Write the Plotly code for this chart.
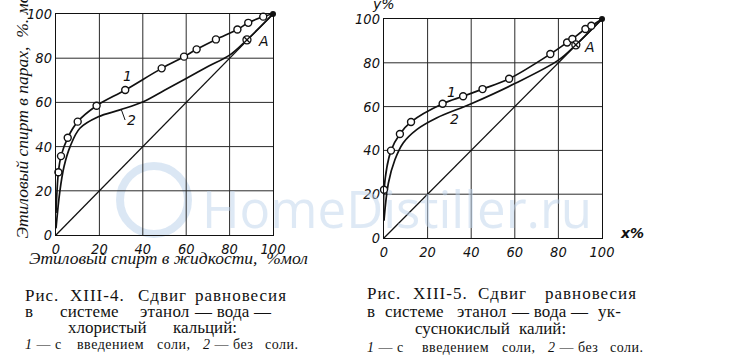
import plotly.graph_objects as go

# ---------------- data ----------------
# Left chart: ethanol - water - CaCl2
left_salt_x = [0, 1.1, 2.3, 5.4, 10, 18.7, 31.9, 48.7, 59, 64.8, 73.7, 83.6, 88.6, 95.5, 100]
left_salt_y = [10, 28.4, 35.7, 44, 51.3, 58.5, 65.6, 75.4, 80.7, 84, 88.5, 93, 96, 98.8, 100]
left_salt_marked = [False, True, True, True, True, True, True, True, True, True, True, True, True, True, False]
left_nosalt_x = [0, 1.8, 3.7, 6.5, 11, 19.5, 29.5, 40.2, 50, 60.2, 70, 80.2, 88, 100]
left_nosalt_y = [3, 20, 31, 40, 48.3, 53.5, 56.6, 60.3, 65.5, 70.9, 76.2, 81.5, 88.3, 100]
left_A = (88, 88.3)

# Right chart: ethanol - water - potassium acetate
right_salt_x = [0, 0, 3.2, 7.3, 12.4, 26.9, 36.3, 45.2, 57.4, 76.3, 84, 86.4, 92.4, 95.1, 100]
right_salt_y = [8, 22, 39.9, 47.5, 53, 61.3, 64.7, 68, 72.7, 84, 89.3, 90.9, 95.4, 96.9, 100]
right_salt_marked = [False, True, True, True, True, True, True, True, True, True, True, True, True, True, False]
right_nosalt_x = [0, 2, 5, 8.8, 15, 24.1, 40, 60, 80, 88, 100]
right_nosalt_y = [8, 25, 35.7, 43.4, 49.5, 54.8, 61.3, 70.5, 81.2, 88.2, 100]
right_A = (88, 88.2)

diag = [0, 100]
ticks = [0, 20, 40, 60, 80, 100]
tick_text = ["0", "20", "40", "60", "80", "100"]

W, H = 751, 364

def px_x(p):
    return p / W

def px_y(p):
    return 1 - p / H

fig = go.Figure()

INK = "#111111"
TICKFONT = dict(family="DejaVu Sans Condensed, DejaVu Sans", size=14.5, color=INK, style="italic")

def add_grid(xa, ya):
    inner = ticks[1:-1]
    gx, gy = [], []
    for t in inner:
        gx += [t, t, None]
        gy += [ticks[0], ticks[-1], None]
        gx += [ticks[0], ticks[-1], None]
        gy += [t, t, None]
    fig.add_trace(go.Scatter(x=gx, y=gy, mode="lines", line=dict(color="#2a2a2a", width=1),
                             xaxis=xa, yaxis=ya, showlegend=False, hoverinfo="skip"))

def add_panel(xa, ya, sx, sy, smark, nx, ny, A):
    add_grid(xa, ya)
    # diagonal
    fig.add_trace(go.Scatter(x=diag, y=diag, mode="lines", line=dict(color=INK, width=1.3),
                             xaxis=xa, yaxis=ya, showlegend=False, hoverinfo="skip"))
    # curve 2 (without salt)
    fig.add_trace(go.Scatter(x=nx, y=ny, mode="lines", line=dict(color=INK, width=1.7, shape="spline", smoothing=1.0),
                             xaxis=xa, yaxis=ya, showlegend=False, cliponaxis=False))
    # curve 1 (with salt)
    fig.add_trace(go.Scatter(x=sx, y=sy, mode="lines", line=dict(color=INK, width=1.7, shape="spline", smoothing=1.0),
                             xaxis=xa, yaxis=ya, showlegend=False, cliponaxis=False))
    mx = [v for v, m in zip(sx, smark) if m]
    my = [v for v, m in zip(sy, smark) if m]
    fig.add_trace(go.Scatter(x=mx, y=my, mode="markers",
                             marker=dict(symbol="circle", size=7, color="white", line=dict(color=INK, width=1.4)),
                             xaxis=xa, yaxis=ya, showlegend=False, cliponaxis=False))
    # end point
    fig.add_trace(go.Scatter(x=[100], y=[100], mode="markers",
                             marker=dict(symbol="circle", size=6, color=INK),
                             xaxis=xa, yaxis=ya, showlegend=False, cliponaxis=False))
    # point A
    fig.add_trace(go.Scatter(x=[A[0]], y=[A[1]], mode="markers",
                             marker=dict(symbol="circle-x", size=8, color="white", line=dict(color=INK, width=1.3)),
                             xaxis=xa, yaxis=ya, showlegend=False, cliponaxis=False))

add_panel("x", "y", left_salt_x, left_salt_y, left_salt_marked, left_nosalt_x, left_nosalt_y, left_A)
add_panel("x2", "y2", right_salt_x, right_salt_y, right_salt_marked, right_nosalt_x, right_nosalt_y, right_A)

axis_common = dict(range=[0, 100], tickvals=ticks, ticktext=tick_text, showgrid=False,
                   zeroline=False, showline=True, linecolor=INK, linewidth=1.3, mirror=True,
                   ticks="", tickfont=TICKFONT, fixedrange=True, automargin=False)

fig.update_layout(
    template="none",
    width=W, height=H,
    margin=dict(l=0, r=0, t=0, b=0, autoexpand=False),
    paper_bgcolor="white", plot_bgcolor="rgba(0,0,0,0)",
    xaxis=dict(domain=[px_x(56), px_x(273)], anchor="y", **axis_common),
    yaxis=dict(domain=[px_y(235), px_y(14)], anchor="x", **axis_common),
    xaxis2=dict(domain=[px_x(384), px_x(602)], anchor="y2", **axis_common),
    yaxis2=dict(domain=[px_y(238), px_y(19)], anchor="x2", **axis_common),
    showlegend=False,
)

# watermark (faint)
fig.add_shape(type="circle", xref="paper", yref="paper", layer="below",
              x0=px_x(120), x1=px_x(188), y0=px_y(234), y1=px_y(166),
              line=dict(color="rgba(190,212,235,0.55)", width=8))
fig.add_annotation(text="HomeDistiller.ru", xref="paper", yref="paper", x=px_x(397), y=px_y(208),
                   showarrow=False, font=dict(family="Open Sans, DejaVu Sans", size=51, color="rgba(190,212,235,0.5)"),
                   xanchor="center", yanchor="middle")

LABEL = dict(family="DejaVu Sans, Liberation Sans", size=14, color=INK, style="italic")

# curve labels left
fig.add_annotation(x=33, y=72, xref="x", yref="y", text="1", showarrow=False, font=LABEL)
fig.add_annotation(x=30, y=57, xref="x", yref="y", text="2", showarrow=True, arrowhead=0, arrowwidth=1,
                   arrowcolor=INK, ax=4, ay=11, font=LABEL, xanchor="left")
fig.add_annotation(x=92, y=88, xref="x", yref="y", text="A", showarrow=False, font=LABEL, xanchor="left")
# curve labels right
fig.add_annotation(x=31, y=66.5, xref="x2", yref="y2", text="1", showarrow=False, font=LABEL)
fig.add_annotation(x=32.5, y=54.5, xref="x2", yref="y2", text="2", showarrow=False, font=LABEL)
fig.add_annotation(x=91, y=87, xref="x2", yref="y2", text="A", showarrow=False, font=LABEL, xanchor="left")

TITLE = dict(family="Liberation Serif, DejaVu Serif", size=17.5, color=INK, style="italic")
# axis titles left
fig.add_annotation(text="Этиловый спирт в парах,  %. мол", xref="paper", yref="paper",
                   x=px_x(21), y=px_y(241), textangle=-90, showarrow=False, font=TITLE,
                   xanchor="center", yanchor="bottom")
fig.add_annotation(text="Этиловый спирт в жидкости,  %мол", xref="paper", yref="paper",
                   x=px_x(27), y=px_y(258), showarrow=False, font=TITLE,
                   xanchor="left", yanchor="middle")
# axis titles right
fig.add_annotation(text="y%", xref="paper", yref="paper", x=px_x(370), y=px_y(4), showarrow=False,
                   font=dict(family="DejaVu Sans", size=14, color=INK, style="italic"), xanchor="left", yanchor="middle")
fig.add_annotation(text="x%", xref="paper", yref="paper", x=px_x(618), y=px_y(233), showarrow=False,
                   font=dict(family="DejaVu Sans", size=14, color=INK, style="italic", weight="bold"),
                   xanchor="left", yanchor="middle")

# captions
CAP = dict(family="Liberation Serif, DejaVu Serif", size=17, color=INK)
CAP_S = dict(family="Liberation Serif, DejaVu Serif", size=14, color=INK)

def cap(text, x, y, font=CAP, spacing=1.0):
    fig.add_annotation(text='<span style="letter-spacing:%.1fpx">%s</span>' % (spacing, text),
                       xref="paper", yref="paper", x=px_x(x - 2), y=px_y(y),
                       showarrow=False, font=font, xanchor="left", yanchor="middle")

def cap_row(words, y, font=CAP, spacing=1.0):
    for text, x in words:
        cap(text, x, y, font=font, spacing=spacing)

# left caption
cap_row([("Рис.", 25), ("XIII-4.", 70), ("Сдвиг", 138), ("равновесия", 195)], 295, spacing=1.0)
cap_row([("в", 25), ("системе", 60), ("этанол", 140), ("— вода —", 194)], 311, spacing=0.2)
cap_row([("хлористый", 68), ("кальций:", 173)], 327, spacing=0.0)
cap_row([("<i>1</i> — с", 25), ("введением", 77), ("соли,", 157), ("<i>2</i> — без", 203), ("соли.", 265)], 344,
        CAP_S, spacing=0.5)

# right caption
cap_row([("Рис.", 367), ("XIII-5.", 413), ("Сдвиг", 478), ("равновесия", 545)], 293, spacing=1.0)
cap_row([("в", 367), ("системе", 385), ("этанол", 457), ("— вода —", 511), ("ук-", 598)], 311, spacing=0.2)
cap_row([("суснокислый", 415), ("калий:", 519)], 328, spacing=0.0)
cap_row([("<i>1</i> — с", 367), ("введением", 422), ("соли,", 502), ("<i>2</i> — без", 548), ("соли.", 610)], 347,
        CAP_S, spacing=0.5)

fig.write_html("out.html", config={"displayModeBar": False},
               post_script="document.body.style.margin='0';document.body.style.overflow='hidden';")
